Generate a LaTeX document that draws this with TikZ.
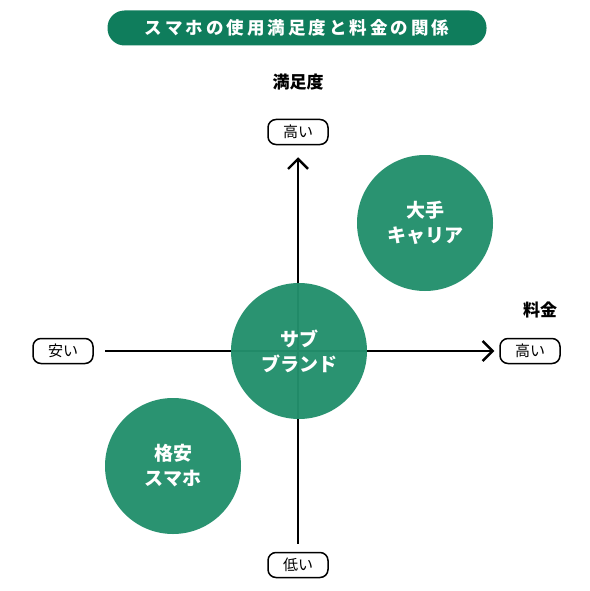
\documentclass[tikz,border=0pt]{standalone}
\usepackage{fontspec}
\setmainfont{Noto Sans CJK JP}
\usetikzlibrary{arrows.meta}
\definecolor{titlegreen}{HTML}{0F7D5C}
\definecolor{circlegreen}{HTML}{238F6C}

\begin{document}
\begin{tikzpicture}[
        x=1pt, y=-1pt,
        axis/.style={line width=2.4pt, -{Straight Barb[length=10pt, width=20pt, line width=2.4pt]}},
        endlabel/.style={draw, line width=1.5pt, rounded corners=8pt, minimum width=60pt, minimum height=25pt, inner sep=0pt, font=\fontsize{15}{17}\selectfont},
        axistitle/.style={font=\fontsize{17}{20}\selectfont\bfseries},
        group/.style={circle, fill=circlegreen, fill opacity=0.97, text opacity=1, minimum size=136pt, inner sep=0pt, text=white, align=center, font=\fontsize{19}{25}\selectfont\bfseries}
    ]
    \useasboundingbox (0,0) rectangle (589,591);
    % title
    \node (Title) [fill=titlegreen, rounded corners=17pt, minimum width=379pt, minimum height=35pt, text=white, font=\fontsize{17.5}{20}\selectfont\bfseries] at (297,28) {ス\kern3ptマ\kern3ptホ\kern3ptの\kern3pt使\kern3pt用\kern3pt満\kern3pt足\kern3pt度\kern3ptと\kern3pt料\kern3pt金\kern3ptの\kern3pt関\kern3pt係};
    % axes
    \node (Top) [endlabel] at (298,132) {高い};
    \node (Bottom) [endlabel] at (298,565) {低い};
    \node (Left) [endlabel] at (63,351) {安い};
    \node (Right) [endlabel] at (530,351) {高い};
    \node (Satisfaction) [axistitle] at (298,82) {満足度};
    \node (Price) [axistitle] at (540,310) {料金};
    \draw [axis] (Bottom.north) ++(0,-8) coordinate (BottomEnd) -- ([yshift=-12pt]Top.south);
    \draw [axis] (105,351) coordinate (LeftEnd) -- ([xshift=-5pt]Right.west);
    % groups
    \node (SubBrand) [group] at (299,351) {サブ\\ブランド};
    \node (Carrier) [group] at (425,223) {大手\\キャリア};
    \node (Budget) [group] at (173,466) {格安\\スマホ};
\end{tikzpicture}
\end{document}
